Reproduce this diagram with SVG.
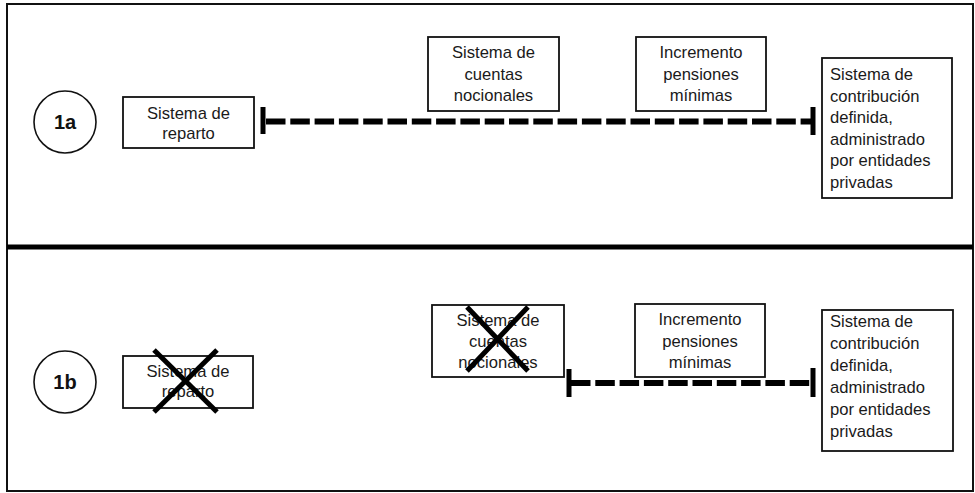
<svg xmlns="http://www.w3.org/2000/svg" width="975" height="493" viewBox="0 0 975 493">
<style>
.frame{fill:none;stroke:#111;stroke-width:2}
.div{stroke:#000;stroke-width:5}
.box{fill:#fff;stroke:#111;stroke-width:1.8}
.circ{fill:#fff;stroke:#111;stroke-width:1.6}
.t{font-family:"Liberation Sans",Arial,sans-serif;font-size:16.6px;fill:#1a1a1a}
.c{text-anchor:middle}
.lbl{font-family:"Liberation Sans",Arial,sans-serif;font-size:20px;font-weight:bold;fill:#111;text-anchor:middle}
.dash{stroke:#000;stroke-width:6;stroke-dasharray:19.5 4.8;fill:none}
.bar{stroke:#000;stroke-width:5}
.cross{stroke:#000;stroke-width:5}
</style>
<rect class="frame" x="7" y="4" width="966" height="487"/>
<line class="div" x1="7" y1="247" x2="973" y2="247"/>

<g id="connectors">
  <line class="dash" x1="266" y1="121.5" x2="812" y2="121.5"/>
  <line class="bar" x1="263" y1="107" x2="263" y2="134"/>
  <line class="bar" x1="813" y1="107" x2="813" y2="135"/>
  <line class="dash" x1="571" y1="383" x2="812" y2="383"/>
  <line class="bar" x1="569" y1="369" x2="569" y2="397"/>
  <line class="bar" x1="813" y1="368" x2="813" y2="397"/>
</g>

<g id="label-1a">
  <circle class="circ" cx="65" cy="122" r="31"/>
  <text class="lbl" x="65" y="129">1a</text>
</g>
<g id="reparto-1a">
  <rect class="box" x="123" y="97" width="131" height="51"/>
  <text class="t c" x="188.5" y="119">Sistema de</text>
  <text class="t c" x="188.5" y="139">reparto</text>
</g>
<g id="nocionales-1a">
  <rect class="box" x="428" y="37" width="131" height="74"/>
  <text class="t c" x="493.5" y="58">Sistema de</text>
  <text class="t c" x="493.5" y="80">cuentas</text>
  <text class="t c" x="493.5" y="101">nocionales</text>
</g>
<g id="incremento-1a">
  <rect class="box" x="636" y="37" width="130" height="74"/>
  <text class="t c" x="701" y="58">Incremento</text>
  <text class="t c" x="701" y="80">pensiones</text>
  <text class="t c" x="701" y="101">mínimas</text>
</g>
<g id="contribucion-1a">
  <rect class="box" x="822" y="58" width="130" height="140"/>
  <text class="t" x="830" y="80">Sistema de</text>
  <text class="t" x="830" y="101.6">contribución</text>
  <text class="t" x="830" y="123.2">definida,</text>
  <text class="t" x="830" y="144.8">administrado</text>
  <text class="t" x="830" y="166.4">por entidades</text>
  <text class="t" x="830" y="188">privadas</text>
</g>

<g id="label-1b">
  <circle class="circ" cx="65" cy="382" r="31"/>
  <text class="lbl" x="65" y="389">1b</text>
</g>
<g id="reparto-1b">
  <rect class="box" x="123" y="356" width="130" height="52"/>
  <text class="t c" x="188" y="377">Sistema de</text>
  <text class="t c" x="188" y="397">reparto</text>
  <line class="cross" x1="154" y1="350" x2="217" y2="412"/>
  <line class="cross" x1="217" y1="350" x2="154" y2="412"/>
</g>
<g id="nocionales-1b">
  <rect class="box" x="432" y="305" width="132" height="72"/>
  <text class="t c" x="498" y="326">Sistema de</text>
  <text class="t c" x="498" y="347">cuentas</text>
  <text class="t c" x="498" y="368">nocionales</text>
  <line class="cross" x1="467" y1="307" x2="528" y2="371"/>
  <line class="cross" x1="528" y1="307" x2="467" y2="371"/>
</g>
<g id="incremento-1b">
  <rect class="box" x="635" y="304" width="130" height="73"/>
  <text class="t c" x="700" y="325">Incremento</text>
  <text class="t c" x="700" y="347">pensiones</text>
  <text class="t c" x="700" y="368">mínimas</text>
</g>
<g id="contribucion-1b">
  <rect class="box" x="822" y="310" width="131" height="141"/>
  <text class="t" x="830" y="327">Sistema de</text>
  <text class="t" x="830" y="349">contribución</text>
  <text class="t" x="830" y="371">definida,</text>
  <text class="t" x="830" y="393">administrado</text>
  <text class="t" x="830" y="415">por entidades</text>
  <text class="t" x="830" y="437">privadas</text>
</g>
</svg>
